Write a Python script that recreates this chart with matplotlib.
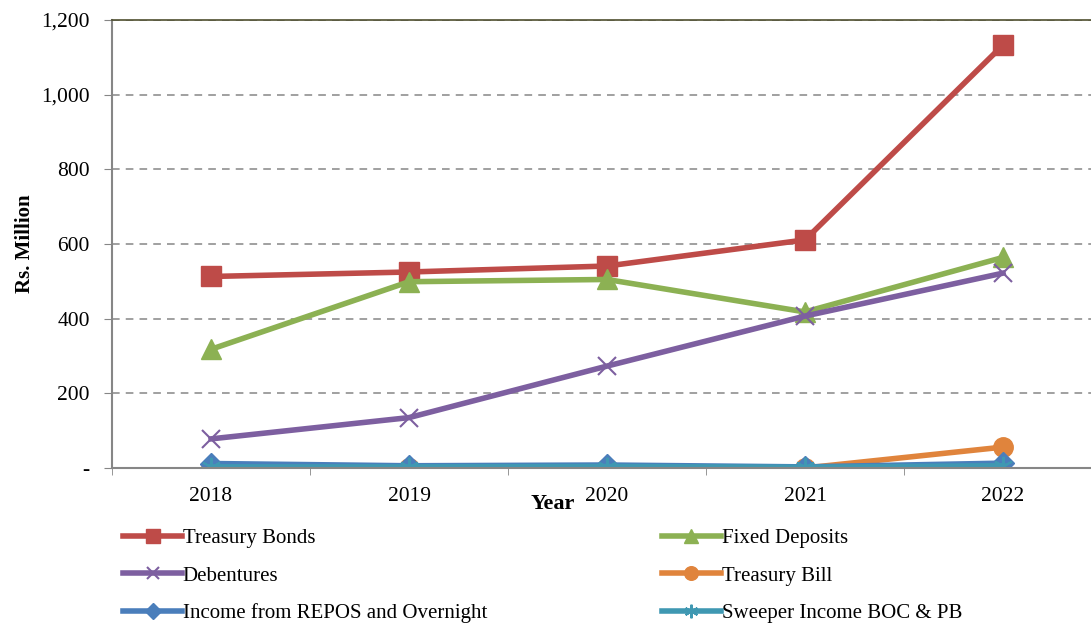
"""
Investment income by instrument, 2018-2022
"""

import numpy as np
import matplotlib.pyplot as plt
from matplotlib.ticker import FuncFormatter, FixedLocator

plt.rcParams['font.family'] = ['Liberation Serif', 'DejaVu Serif']

# Data (Rs. Million)
years = ['2018', '2019', '2020', '2021', '2022']
treasury_bonds = [513, 525, 541, 611, 1133]
fixed_deposits = [318, 499, 505, 418, 564]
debentures = [78, 135, 273, 407, 522]
treasury_bill = [0, 0, 0, 0, 56]
repos_overnight = [12, 6, 8, 3, 13]
sweeper_income = [3, 3, 4, 2, 6]

series = [
    ('Treasury Bonds', treasury_bonds, '#BE4B48', 's', 14, None),
    ('Fixed Deposits', fixed_deposits, '#8CB153', '^', 14, None),
    ('Debentures', debentures, '#7D5FA0', 'x', 13, 1.5),
    ('Treasury Bill', treasury_bill, '#E0843C', 'o', 14, None),
    ('Income from REPOS and Overnight', repos_overnight, '#4A7EBB', 'D', 11, None),
    ('Sweeper Income BOC & PB', sweeper_income, '#3F98B2', (6, 2, 0), 14, 1.5),
]

fig = plt.figure(figsize=(10.91, 6.25), dpi=100)
ax = fig.add_axes([0.1027, 0.2512, 0.9074, 0.7168])

x = np.arange(len(years))
for name, vals, color, marker, ms, mew in series:
    kw = dict(color=color, lw=4, marker=marker, markersize=ms, label=name)
    if mew:
        kw['markeredgewidth'] = mew
    ax.plot(x, vals, **kw)

ax.set_xlim(-0.5, len(years) - 0.5)
ax.set_ylim(0, 1200)
ax.set_yticks(np.arange(0, 1201, 200))
ax.yaxis.set_major_formatter(FuncFormatter(lambda v, p: '-' if v == 0 else f'{int(v):,}'))
ax.set_xticks(x)
ax.set_xticklabels(years)
ax.xaxis.set_minor_locator(FixedLocator(np.arange(-0.5, len(years), 1.0)))
ax.tick_params(axis='x', which='major', length=0, labelsize=15.5, pad=14)
ax.tick_params(axis='x', which='minor', length=5, color='#868686', direction='out')
ax.tick_params(axis='y', length=6, color='#868686', labelsize=15.5, pad=10)

ax.grid(axis='y', color='#868686', linestyle=(0, (5, 4)), lw=1.1)
ax.set_axisbelow(True)
for s in ['left', 'bottom']:
    ax.spines[s].set_color('#868686')
    ax.spines[s].set_linewidth(1.5)
ax.spines['right'].set_visible(False)
ax.spines['top'].set_color('#4F4F2F')
ax.spines['top'].set_linewidth(1.2)

ax.set_ylabel('Rs. Million', fontsize=15, fontweight='bold')
ax.yaxis.set_label_coords(-0.078, 0.5)
ax.set_xlabel('Year', fontsize=16, fontweight='bold')
ax.xaxis.set_label_coords(0.445, -0.058)

# legend filled row by row like the original
handles, labels = ax.get_legend_handles_labels()
order = [0, 2, 4, 1, 3, 5]
fig.legend([handles[i] for i in order], [labels[i] for i in order],
           loc='upper left', bbox_to_anchor=(0.096, 0.184),
           ncol=2, frameon=False, fontsize=15, handlelength=2.8,
           handletextpad=0.05, columnspacing=8.4, labelspacing=0.85,
           markerscale=0.7)

plt.savefig('out.png', dpi=100)
plt.close()
